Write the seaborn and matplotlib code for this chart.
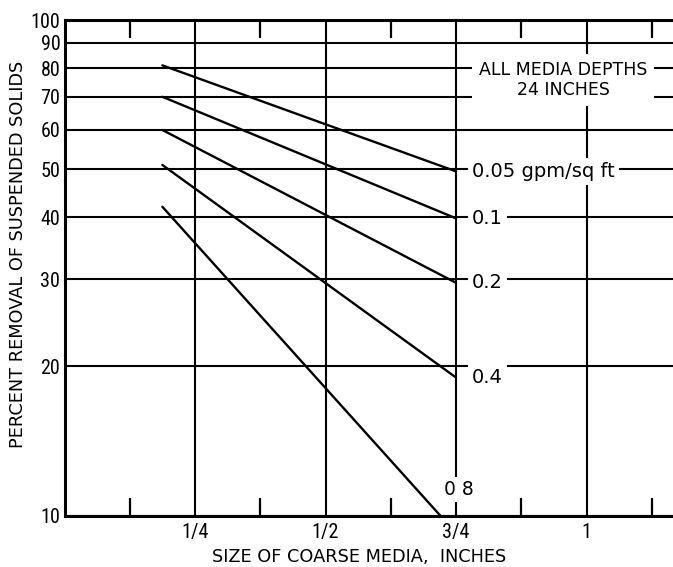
import matplotlib
matplotlib.use("Agg")
import matplotlib.pyplot as plt
from matplotlib.ticker import NullLocator, FixedLocator
import numpy as np
import pandas as pd
import seaborn as sns

# Flow rates (gpm/sq ft) and the removal lines drawn for each
rates = ["0.05", "0.1", "0.2", "0.4", "0.8"]
rate_labels = ["0.05 gpm/sq ft", "0.1", "0.2", "0.4", "0.8"]
size_start = [0.1875, 0.1875, 0.1875, 0.1875, 0.1875]
removal_start = [81, 70, 60, 51, 42]
size_end = [0.75, 0.75, 0.75, 0.75, 0.72]
removal_end = [49.5, 39.8, 29.5, 19.0, 10.0]

y_ticks = [10, 20, 30, 40, 50, 60, 70, 80, 90, 100]
y_tick_labels = ["10", "20", "30", "40", "50", "60", "70", "80", "90", "100"]
x_ticks = [0.25, 0.5, 0.75, 1.0]
x_tick_labels = ["1/4", "1/2", "3/4", "1"]
x_minor = [0.125, 0.375, 0.625, 0.875, 1.125]

df = pd.DataFrame({
    "rate": rates * 2,
    "size": size_start + size_end,
    "removal": removal_start + removal_end,
})

sns.set_style("white")
plt.rcParams["font.family"] = ["Roboto Condensed", "Roboto", "DejaVu Sans"]
for key in ["text.color", "axes.labelcolor", "xtick.color", "ytick.color"]:
    plt.rcParams[key] = "black"

fig = plt.figure(figsize=(6.73, 5.67), dpi=100)
W, H = 673, 567
x0, x1, ytop, ybot = 64.5, 673, 20, 515.7
ax = fig.add_axes([x0 / W, (H - ybot) / H, (x1 - x0) / W, (ybot - ytop) / H])

sns.lineplot(data=df, x="size", y="removal", units="rate", estimator=None,
             color="black", lw=1.7, ax=ax, legend=False)

ax.set_yscale("log")
ax.set_ylim(10, 100)
ax.set_xlim(0, (x1 - x0) / 522)

ax.yaxis.set_major_locator(FixedLocator(y_ticks))
ax.yaxis.set_minor_locator(NullLocator())
ax.set_yticklabels(y_tick_labels)
ax.set_xticks(x_ticks, labels=x_tick_labels)
ax.xaxis.set_minor_locator(FixedLocator(x_minor))

ax.tick_params(axis="y", which="both", length=0, pad=3, labelsize=14.5)
ax.tick_params(axis="x", which="major", length=0, pad=5, labelsize=14.5)
ax.tick_params(axis="x", which="minor", direction="in", length=13, width=1.6,
               top=True, bottom=True, color="black")

ax.grid(True, which="major", color="black", lw=1.5)
ax.set_axisbelow(False)

for side in ["left", "bottom", "top"]:
    ax.spines[side].set_color("black")
    ax.spines[side].set_linewidth(2.2)
ax.spines["right"].set_visible(False)

lab_font = dict(family=["DejaVu Sans"], fontsize=12.8)
ax.set_xlabel("SIZE OF COARSE MEDIA,  INCHES", **lab_font)
ax.xaxis.set_label_coords((359 - x0) / (x1 - x0), -(556.7 - ybot) / (ybot - ytop))
ax.xaxis.label.set_va("center")
ax.set_ylabel("PERCENT REMOVAL OF SUSPENDED SOLIDS", **lab_font)
ax.yaxis.set_label_coords((18 - x0) / (x1 - x0), (ybot - 254) / (ybot - ytop))
ax.yaxis.label.set_va("center")

box = dict(facecolor="white", edgecolor="none", pad=3)
for i, lab in enumerate(rate_labels):
    if i < 4:
        ax.text(0.781, removal_end[i], lab, ha="left", va="center",
                fontsize=14, family=["DejaVu Sans"], bbox=box)
    else:
        ax.text(0.756, 11.3, lab.replace(".", " "), ha="center", va="center",
                fontsize=13.5, family=["DejaVu Sans"],
                bbox=dict(facecolor="white", edgecolor="none", pad=2))

ax.text(0.955, 75.7, "ALL MEDIA DEPTHS\n24 INCHES", ha="center", va="center",
        fontsize=12.5, family=["DejaVu Sans"], linespacing=1.2,
        bbox=dict(facecolor="white", edgecolor="none", pad=5))

fig.savefig("out.png", dpi=100, facecolor="white")
